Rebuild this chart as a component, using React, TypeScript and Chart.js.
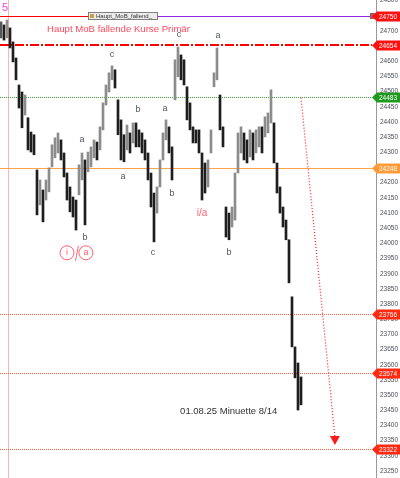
import React, { useEffect, useRef } from "react";
import { Chart, registerables } from "chart.js";
Chart.register(...registerables);

// ---- price bars (high / low per bar, bar index 0..100) ----
const barHigh = [
  24730, 24720, 24736, 24710, 24664, 24611, 24522, 24499, 24489, 24414,
  24367, 24358, 24242, 24209, 24176, 24209, 24249, 24325, 24348, 24364,
  24341, 24298, 24232, 24186, 24153, 24143, 24259, 24298, 24275, 24301,
  24318, 24341, 24334, 24384, 24463, 24522, 24562, 24585, 24572, 24473,
  24407, 24358, 24390, 24364, 24397, 24397, 24374, 24364, 24341, 24298,
  24232, 24166, 24186, 24275, 24364, 24407, 24384, 24318, 24605, 24647,
  24621, 24605, 24516, 24463, 24384, 24374, 24374, 24298, 24265, 24275,
  24374, 24562, 24644, 24489, 24384, 24120, 24100, 24120, 24232, 24364,
  24384, 24364, 24341, 24374, 24364, 24374, 24384, 24384, 24417, 24430,
  24506, 24397, 24265, 24186, 24120, 24077, 24012, 23824, 23659, 23606,
  23560,
];
const barLow = [
  24677, 24670, 24677, 24644, 24598, 24539, 24446, 24381, 24423, 24308,
  24301, 24292, 24094, 24127, 24071, 24143, 24170, 24252, 24282, 24298,
  24275, 24219, 24143, 24104, 24087, 24044, 24160, 24209, 24061, 24236,
  24252, 24282, 24275, 24308, 24374, 24456, 24499, 24539, 24512, 24358,
  24275, 24269, 24308, 24298, 24331, 24318, 24318, 24298, 24275, 24209,
  24120, 24005, 24100, 24186, 24275, 24341, 24298, 24209, 24473, 24549,
  24539, 24522, 24407, 24374, 24331, 24331, 24298, 24143, 24166, 24186,
  24298, 24516, 24539, 24374, 24318, 24021, 24012, 24054, 24077, 24232,
  24298, 24275, 24265, 24285, 24275, 24298, 24318, 24298, 24351, 24364,
  24397, 24265, 24166, 24100, 24054, 24012, 23870, 23659, 23557, 23451,
  23468,
];

// ---- horizontal levels ----
const levelValues = [24750, 24654, 24483, 24248, 23766, 23574, 23322];

// ---- axis ----
const axisMin = 23227;
const axisMax = 24802;
const tickStart = 23250;
const tickEnd = 24800;
const tickStep = 50;

// ---- wave labels ----
const waveText = ["c", "a", "a", "b", "b", "a", "c", "b", "c", "a", "b"];
const waveIndex = [37, 27, 40.7, 28, 45.7, 54.7, 59.3, 57, 50.7, 72.3, 76];
const waveValue = [24621, 24341, 24222, 24021, 24440, 24446, 24687, 24166, 23969, 24684, 23969];

const circleText = ["i", "a"];
const circleIndex = [22, 28.3];
const circleValue = [23969, 23969];

const redWaveText = "i/a";
const redWaveIndex = 67;
const redWaveValue = 24100;

const noteText = "01.08.25 Minuette 8/14";
const noteIndex = 59.7;
const noteValue = 23448;

const titleText = "Haupt MoB fallende Kurse Primär";
const boxText = "Haupt_MoB_fallend_";
const markerIndex = 2.33;

const arrowStart = { i: 100, v: 24480 };
const arrowEnd = { i: 111.3, v: 23336 };

const levelStyle = [
  { color: "#ff0000", width: 1, dash: [] as number[], tag: "#ff1010" },
  { color: "#ff0000", width: 2, dash: [9, 2, 2, 2], tag: "#ff1010" },
  { color: "#3daa3d", width: 1, dash: [1, 1], tag: "#1f9a1f" },
  { color: "#ffa24a", width: 1, dash: [] as number[], tag: "#ff9a36" },
  { color: "#ff5a3c", width: 1, dash: [1, 1], tag: "#ff2a10" },
  { color: "#ff5a3c", width: 1, dash: [1, 1], tag: "#ff2a10" },
  { color: "#ff5a3c", width: 1, dash: [1, 1], tag: "#ff2a10" },
];

const FONT = "'Liberation Sans', Arial, sans-serif";

const overlay = {
  id: "overlay",
  beforeDatasetsDraw(chart: any) {
    const { ctx, chartArea, scales } = chart;
    const xs = scales.x;
    const ys = scales.y;
    ctx.save();
    // vertical marker
    const mx = Math.round(xs.getPixelForValue(markerIndex)) + 0.5;
    ctx.strokeStyle = "#ffb4b4";
    ctx.lineWidth = 1;
    ctx.beginPath();
    ctx.moveTo(mx, 0);
    ctx.lineTo(mx, chartArea.bottom);
    ctx.stroke();
    // levels
    levelValues.forEach((v, k) => {
      const st = levelStyle[k];
      const y = Math.round(ys.getPixelForValue(v)) + (st.width === 1 ? 0.5 : 0);
      ctx.lineWidth = st.width;
      ctx.setLineDash(st.dash);
      if (k === 0) {
        ctx.strokeStyle = st.color;
        ctx.beginPath();
        ctx.moveTo(0, y);
        ctx.lineTo(88, y);
        ctx.stroke();
        ctx.strokeStyle = "#8a2be2";
        ctx.beginPath();
        ctx.moveTo(158, y);
        ctx.lineTo(chartArea.right - 6, y);
        ctx.stroke();
      } else {
        ctx.strokeStyle = st.color;
        ctx.beginPath();
        ctx.moveTo(0, y);
        ctx.lineTo(chartArea.right - 4, y);
        ctx.stroke();
      }
    });
    ctx.setLineDash([]);
    ctx.restore();
  },
  afterDatasetsDraw(chart: any) {
    const { ctx, chartArea, scales, width } = chart;
    const xs = scales.x;
    const ys = scales.y;
    ctx.save();

    // axis line
    const ax = chartArea.right + 0.5;
    ctx.strokeStyle = "#999";
    ctx.lineWidth = 1;
    ctx.beginPath();
    ctx.moveTo(ax, 0);
    ctx.lineTo(ax, chartArea.bottom);
    ctx.stroke();

    // tick labels
    ctx.fillStyle = "#4a4f5a";
    ctx.font = `6.5px ${FONT}`;
    ctx.textAlign = "left";
    ctx.textBaseline = "middle";
    for (let t = tickStart; t <= tickEnd; t += tickStep) {
      ctx.fillText(String(t), chartArea.right + 4, ys.getPixelForValue(t));
    }

    // label box on first level
    const y0 = Math.round(ys.getPixelForValue(levelValues[0]));
    ctx.fillStyle = "#ececec";
    ctx.fillRect(88, y0 - 4, 70, 8);
    ctx.strokeStyle = "#808080";
    ctx.strokeRect(88.5, y0 - 3.5, 69, 7);
    ctx.fillStyle = "#c8a040";
    ctx.fillRect(90, y0 - 2, 4, 4);
    ctx.fillStyle = "#333";
    ctx.font = `6px ${FONT}`;
    ctx.textBaseline = "middle";
    ctx.fillText(boxText, 96, y0 + 0.5);
    // small icon
    ctx.fillStyle = "#a05a5a";
    ctx.fillRect(chartArea.right - 6, y0 - 3, 6, 6);

    // title
    ctx.fillStyle = "#ff4a5e";
    ctx.font = `9.6px ${FONT}`;
    ctx.textAlign = "left";
    ctx.fillText(titleText, 47, y0 + 13);

    // "5"
    ctx.fillStyle = "#ee44ee";
    ctx.font = `11px ${FONT}`;
    ctx.textBaseline = "top";
    ctx.fillText("5", 2, 2);

    // tags
    ctx.font = `6.5px ${FONT}`;
    ctx.textBaseline = "middle";
    levelValues.forEach((v, k) => {
      const y = Math.round(ys.getPixelForValue(v)) + 0.5;
      const L = chartArea.right - 4;
      ctx.fillStyle = levelStyle[k].tag;
      ctx.beginPath();
      ctx.moveTo(L, y);
      ctx.lineTo(L + 5, y - 5);
      ctx.lineTo(width, y - 5);
      ctx.lineTo(width, y + 5);
      ctx.lineTo(L + 5, y + 5);
      ctx.closePath();
      ctx.fill();
      ctx.fillStyle = "#fff";
      ctx.textAlign = "left";
      ctx.fillText(String(v), chartArea.right + 3, y + 0.5);
    });

    // wave labels
    ctx.fillStyle = "#4c5464";
    ctx.font = `9px ${FONT}`;
    ctx.textAlign = "center";
    ctx.textBaseline = "middle";
    waveText.forEach((t, k) => {
      ctx.fillText(t, xs.getPixelForValue(waveIndex[k]), ys.getPixelForValue(waveValue[k]));
    });

    // circled labels
    ctx.strokeStyle = "#ff6070";
    ctx.fillStyle = "#ff6070";
    ctx.lineWidth = 1;
    circleText.forEach((t, k) => {
      const cx = xs.getPixelForValue(circleIndex[k]);
      const cy = ys.getPixelForValue(circleValue[k]);
      ctx.beginPath();
      ctx.arc(cx, cy, 7, 0, Math.PI * 2);
      ctx.stroke();
      ctx.fillText(t, cx, cy);
    });
    const sx0 = xs.getPixelForValue(circleIndex[0]);
    const sx1 = xs.getPixelForValue(circleIndex[1]);
    const sy = ys.getPixelForValue(circleValue[0]);
    const smx = (sx0 + sx1) / 2;
    ctx.beginPath();
    ctx.moveTo(smx + 2, sy - 7);
    ctx.lineTo(smx - 1, sy + 8);
    ctx.stroke();

    // i/a
    ctx.font = `10px ${FONT}`;
    ctx.fillText(redWaveText, xs.getPixelForValue(redWaveIndex), ys.getPixelForValue(redWaveValue));

    // note
    ctx.fillStyle = "#333";
    ctx.font = `9.5px ${FONT}`;
    ctx.textAlign = "left";
    ctx.fillText(noteText, xs.getPixelForValue(noteIndex), ys.getPixelForValue(noteValue));

    // arrow
    const x1 = xs.getPixelForValue(arrowStart.i);
    const y1 = ys.getPixelForValue(arrowStart.v);
    const x2 = xs.getPixelForValue(arrowEnd.i);
    const y2 = ys.getPixelForValue(arrowEnd.v);
    ctx.strokeStyle = "#ff2020";
    ctx.setLineDash([1, 2]);
    ctx.lineWidth = 1.2;
    ctx.beginPath();
    ctx.moveTo(x1, y1);
    ctx.lineTo(x2, y2 - 8);
    ctx.stroke();
    ctx.setLineDash([]);
    ctx.fillStyle = "#ff1a1a";
    ctx.beginPath();
    ctx.moveTo(x2, y2);
    ctx.lineTo(x2 - 5, y2 - 9);
    ctx.lineTo(x2 + 5, y2 - 9);
    ctx.closePath();
    ctx.fill();

    ctx.restore();
  },
};

export default function App() {
  const ref = useRef<HTMLCanvasElement>(null);
  useEffect(() => {
    if (!ref.current) return;
    const data = barHigh.map((h, i) => ({ x: i, y: [barLow[i], h] }));
    const chart = new Chart(ref.current, {
      type: "bar",
      data: {
        datasets: [
          {
            data: data as any,
            barThickness: 2,
            borderWidth: 0,
            borderSkipped: false,
            backgroundColor: (c: any) => {
              const i = c.dataIndex;
              if (i === 0) return "#555";
              const m = (barHigh[i] + barLow[i]) / 2;
              const p = (barHigh[i - 1] + barLow[i - 1]) / 2;
              return m < p ? "#1e1e1e" : "#8c8c8c";
            },
          } as any,
        ],
      },
      options: {
        responsive: false,
        animation: false,
        devicePixelRatio: 1,
        layout: { padding: { left: 0, right: 24, top: 0, bottom: 0 } },
        plugins: { legend: { display: false }, tooltip: { enabled: false } },
        scales: {
          x: { type: "linear", display: false, min: -1 / 3, max: 125, offset: false },
          y: { type: "linear", display: false, min: axisMin, max: axisMax },
        },
      },
      plugins: [overlay],
    });
    return () => chart.destroy();
  }, []);
  return (
    <div style={{ position: "fixed", left: 0, top: 0, width: 400, height: 478, background: "#fff" }}>
      <canvas ref={ref} width={400} height={478} style={{ display: "block" }} />
    </div>
  );
}
